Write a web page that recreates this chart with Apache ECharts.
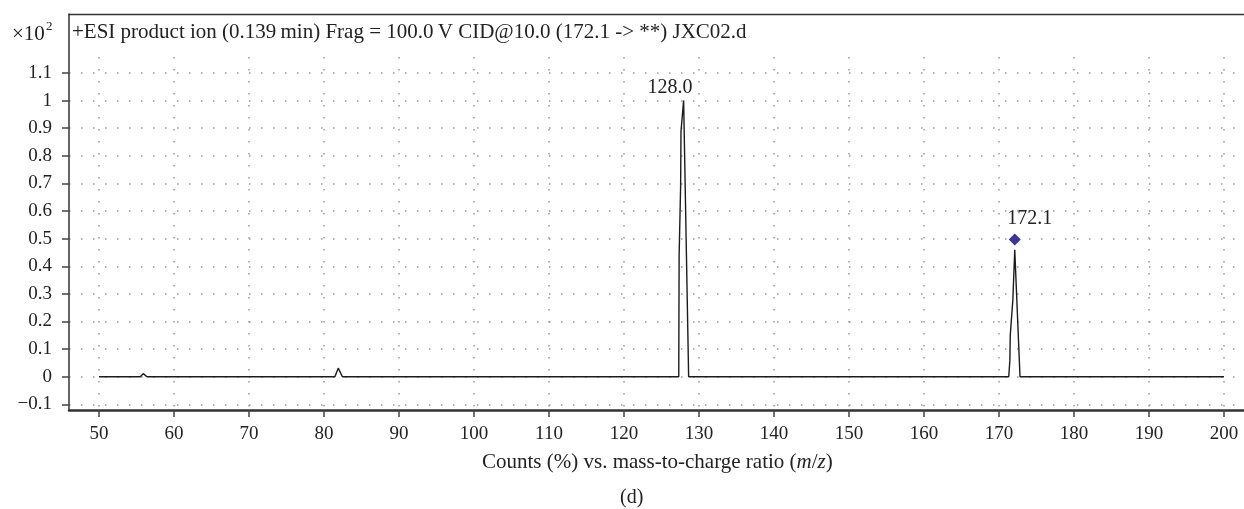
<!DOCTYPE html>
<html>
<head>
<meta charset="utf-8">
<script src="https://cdn.jsdelivr.net/npm/echarts@6/dist/echarts.min.js"></script>
<style>
html,body{margin:0;padding:0;background:#fff;}
#chart{width:1244px;height:509px;}
</style>
</head>
<body>
<div id="chart"></div>
<script>
// m/z values and counts (x10^2) of the spectrum trace
const mzValues = [50, 55.5, 55.9, 56.4, 81.45, 81.9, 82.45, 110.6, 110.8, 111.0,
  127.3, 127.35, 127.55, 127.6, 127.95, 128.0, 128.62,
  171.3, 171.45, 171.5, 171.85, 172.1, 172.15, 172.8, 200];
const countValues = [0, 0, 0.011, 0, 0, 0.031, 0, 0, 0.006, 0,
  0, 0.44, 0.69, 0.89, 1.0, 1.0, 0,
  0, 0.06, 0.15, 0.28, 0.46, 0.46, 0, 0];
// peak annotations
const peakLabels = ['128.0', '172.1'];
const peakMz = [128.0, 172.1];
const peakCounts = [1.0, 0.497];
// axis ticks
const xTicks = [50, 60, 70, 80, 90, 100, 110, 120, 130, 140, 150, 160, 170, 180, 190, 200];
const yTickValues = [-0.1, 0, 0.1, 0.2, 0.3, 0.4, 0.5, 0.6, 0.7, 0.8, 0.9, 1, 1.1];
const yTickLabels = ['\u22120.1', '0', '0.1', '0.2', '0.3', '0.4', '0.5', '0.6', '0.7', '0.8', '0.9', '1', '1.1'];

const FONT = '"Liberation Serif", "DejaVu Serif", serif';
const dotted = { color: '#9a9a9a', width: 1.5, type: [1.5, 10.5] };

const lineData = mzValues.map((m, i) => [m, countValues[i]]);

const chart = echarts.init(document.getElementById('chart'), null, { renderer: 'canvas' });
chart.setOption({
  animation: false,
  backgroundColor: '#fff',
  grid: [
    { left: 69, top: 14, right: 0, bottom: 99 },
    { left: 69, top: 73, right: 0, bottom: 104.7 },
    { left: 99, top: 57, right: 20, bottom: 99 }
  ],
  xAxis: [
    { gridIndex: 0, type: 'value', min: 0, max: 1, position: 'bottom',
      axisLine: { show: true, onZero: false, lineStyle: { color: '#333', width: 2.5 } },
      axisTick: { show: false }, axisLabel: { show: false }, splitLine: { show: false } },
    { gridIndex: 0, type: 'value', min: 0, max: 1, position: 'top',
      axisLine: { show: true, onZero: false, lineStyle: { color: '#333', width: 1.3 } },
      axisTick: { show: false }, axisLabel: { show: false }, splitLine: { show: false } },
    { gridIndex: 1, type: 'value', min: 46, max: 202.6667, show: false },
    { gridIndex: 2, type: 'value', min: 50, max: 200, interval: 10,
      axisLine: { show: false },
      axisTick: { show: true, length: 7, lineStyle: { color: '#444', width: 1.5 } },
      axisLabel: { margin: 15, fontFamily: FONT, fontSize: 19, color: '#222',
        formatter: v => (xTicks.indexOf(v) >= 0 ? String(v) : '') },
      splitLine: { show: true, lineStyle: dotted } }
  ],
  yAxis: [
    { gridIndex: 0, type: 'value', min: 0, max: 1, axisLine: { show: true, onZero: false, lineStyle: { color: '#333', width: 1.5 } },
      axisTick: { show: false }, axisLabel: { show: false }, splitLine: { show: false } },
    { gridIndex: 1, type: 'value', min: -0.1, max: 1.1, interval: 0.1,
      axisLine: { show: false },
      axisTick: { show: true, length: 7, lineStyle: { color: '#444', width: 1.5 } },
      axisLabel: { margin: 17, fontFamily: FONT, fontSize: 19, color: '#222',
        formatter: v => { const i = yTickValues.findIndex(t => Math.abs(t - v) < 1e-6); return i >= 0 ? yTickLabels[i] : ''; } },
      splitLine: { show: true, lineStyle: dotted } },
    { gridIndex: 2, type: 'value', min: 0, max: 1, show: false }
  ],
  series: [
    { type: 'line', xAxisIndex: 2, yAxisIndex: 1, data: lineData, showSymbol: false, symbol: 'none',
      lineStyle: { color: '#1c1c1c', width: 1.4 }, z: 5, silent: true },
    { type: 'scatter', xAxisIndex: 2, yAxisIndex: 1, z: 6, silent: true,
      itemStyle: { opacity: 1 },
      data: [
        { value: [peakMz[0], peakCounts[0]], symbolSize: 1, itemStyle: { color: 'rgba(0,0,0,0)', opacity: 1 },
          label: { show: true, position: 'inside', offset: [-14, -13], formatter: peakLabels[0], color: '#222' } },
        { value: [peakMz[1], peakCounts[1]], symbol: 'diamond', symbolSize: 12, itemStyle: { color: '#3a3597', opacity: 1 },
          label: { show: true, position: 'inside', offset: [15, -21], formatter: peakLabels[1], color: '#222' } }
      ],
      label: { fontFamily: FONT, fontSize: 20, color: '#222' } }
  ],
  graphic: [
    { type: 'text', left: 72, top: 22, z: 10, style: { text: '+ESI product ion (0.139\u2009min) Frag = 100.0\u2009V CID@10.0 (172.1 -> **) JXC02.d', font: '21px ' + FONT, fill: '#222' } },
    { type: 'text', left: 12, top: 24, z: 10, style: { text: '\u00d710', font: '21px ' + FONT, fill: '#222' } },
    { type: 'text', left: 46, top: 20, z: 10, style: { text: '2', font: '13px ' + FONT, fill: '#222' } },
    { type: 'text', left: 482, top: 452, z: 10, style: {
        text: '{n|Counts (%) vs. mass-to-charge ratio (}{i|m}{n|/}{i|z}{n|)}',
        rich: { n: { font: '21px ' + FONT, fill: '#222' }, i: { font: 'italic 21px ' + FONT, fill: '#222' } } } },
    { type: 'text', left: 620, top: 488, z: 10, style: { text: '(d)', font: '20px ' + FONT, fill: '#222' } }
  ]
});
</script>
</body>
</html>
